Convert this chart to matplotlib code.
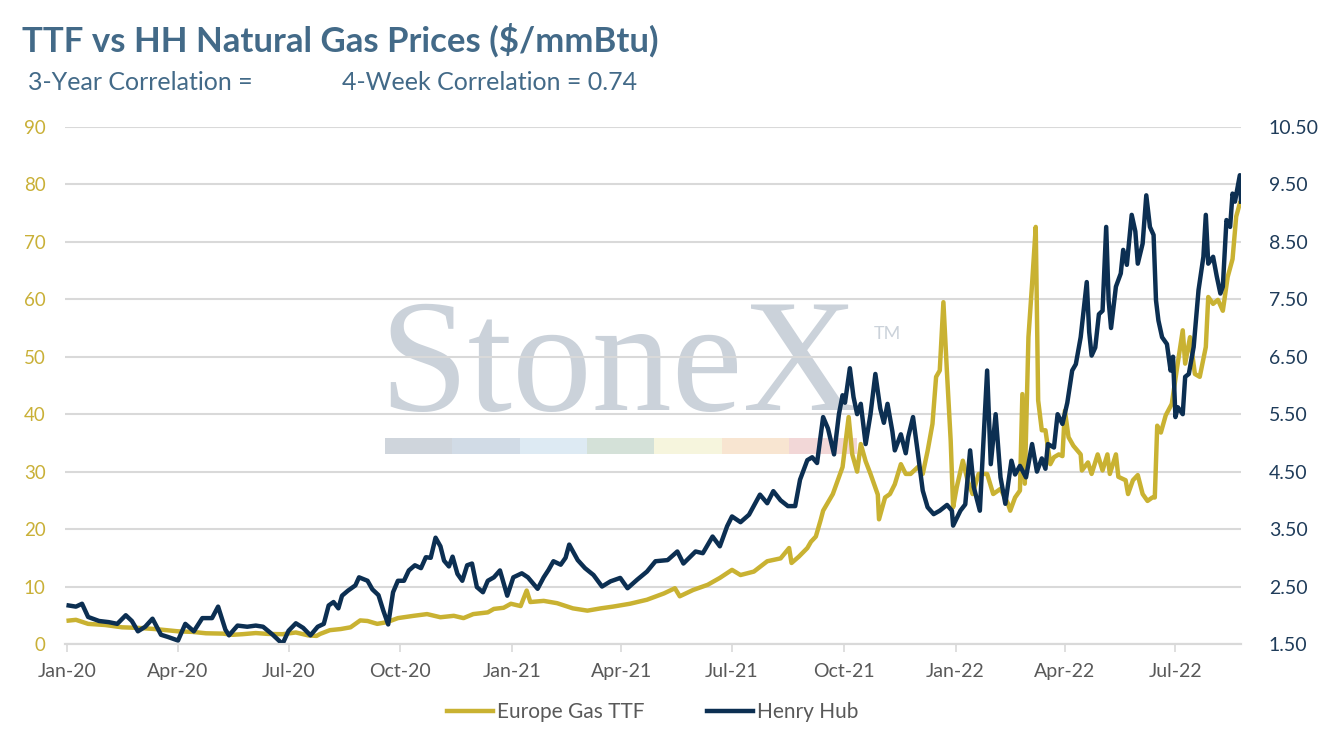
import matplotlib
matplotlib.use('Agg')
import matplotlib.pyplot as plt
import matplotlib.dates as mdates
from matplotlib.patches import Rectangle
import pandas as pd

# Henry Hub ($/mmBtu, right axis)
hh_dates = [
    '2020-01-02', '2020-01-08', '2020-01-13', '2020-01-18', '2020-01-27', '2020-02-04', '2020-02-11',
    '2020-02-18', '2020-02-23', '2020-02-28', '2020-03-05', '2020-03-11', '2020-03-18', '2020-03-24',
    '2020-04-01', '2020-04-07', '2020-04-14', '2020-04-21', '2020-04-29', '2020-05-04', '2020-05-10',
    '2020-05-13', '2020-05-20', '2020-05-28', '2020-06-04', '2020-06-10', '2020-06-18', '2020-06-26',
    '2020-07-01', '2020-07-07', '2020-07-13', '2020-07-19', '2020-07-25', '2020-07-30', '2020-08-03',
    '2020-08-07', '2020-08-11', '2020-08-14', '2020-08-19', '2020-08-25', '2020-08-28', '2020-09-04',
    '2020-09-08', '2020-09-13', '2020-09-17', '2020-09-21', '2020-09-25', '2020-09-29', '2020-10-04',
    '2020-10-08', '2020-10-13', '2020-10-18', '2020-10-22', '2020-10-26', '2020-10-30', '2020-11-03',
    '2020-11-06', '2020-11-10', '2020-11-13', '2020-11-17', '2020-11-21', '2020-11-25', '2020-11-29',
    '2020-12-03', '2020-12-08', '2020-12-12', '2020-12-17', '2020-12-22', '2020-12-28', '2021-01-02',
    '2021-01-09', '2021-01-14', '2021-01-22', '2021-01-27', '2021-01-31', '2021-02-04', '2021-02-10',
    '2021-02-14', '2021-02-17', '2021-02-24', '2021-03-02', '2021-03-09', '2021-03-16', '2021-03-23',
    '2021-03-31', '2021-04-06', '2021-04-14', '2021-04-22', '2021-04-29', '2021-05-09', '2021-05-17',
    '2021-05-22', '2021-06-01', '2021-06-07', '2021-06-15', '2021-06-21', '2021-06-27', '2021-07-01',
    '2021-07-08', '2021-07-15', '2021-07-24', '2021-07-30', '2021-08-04', '2021-08-10', '2021-08-16',
    '2021-08-22', '2021-08-26', '2021-09-01', '2021-09-05', '2021-09-09', '2021-09-14', '2021-09-18',
    '2021-09-23', '2021-09-27', '2021-09-30', '2021-10-02', '2021-10-06', '2021-10-09', '2021-10-12',
    '2021-10-15', '2021-10-19', '2021-10-23', '2021-10-27', '2021-10-31', '2021-11-03', '2021-11-06',
    '2021-11-10', '2021-11-12', '2021-11-17', '2021-11-21', '2021-11-23', '2021-11-27', '2021-12-01',
    '2021-12-05', '2021-12-09', '2021-12-14', '2021-12-19', '2021-12-25', '2021-12-29', '2021-12-30',
    '2022-01-05', '2022-01-09', '2022-01-13', '2022-01-16', '2022-01-21', '2022-01-27', '2022-01-30',
    '2022-02-03', '2022-02-07', '2022-02-11', '2022-02-16', '2022-02-19', '2022-02-23', '2022-02-28',
    '2022-03-05', '2022-03-09', '2022-03-13', '2022-03-16', '2022-03-18', '2022-03-23', '2022-03-26',
    '2022-03-30', '2022-04-03', '2022-04-07', '2022-04-10', '2022-04-14', '2022-04-19', '2022-04-21',
    '2022-04-23', '2022-04-26', '2022-04-29', '2022-05-02', '2022-05-05', '2022-05-07', '2022-05-09',
    '2022-05-13', '2022-05-17', '2022-05-19', '2022-05-22', '2022-05-26', '2022-05-29', '2022-05-31',
    '2022-06-04', '2022-06-07', '2022-06-10', '2022-06-13', '2022-06-15', '2022-06-17', '2022-06-20',
    '2022-06-24', '2022-06-27', '2022-06-29', '2022-07-01', '2022-07-03', '2022-07-07', '2022-07-09',
    '2022-07-12', '2022-07-16', '2022-07-20', '2022-07-24', '2022-07-26', '2022-07-28', '2022-08-01',
    '2022-08-04', '2022-08-07', '2022-08-09', '2022-08-12', '2022-08-15', '2022-08-17', '2022-08-19',
    '2022-08-23', '2022-08-24',
]
hh_values = [
    2.17, 2.15, 2.20, 1.97, 1.90, 1.88, 1.85,
    2.00, 1.90, 1.72, 1.80, 1.94, 1.66, 1.62,
    1.56, 1.85, 1.72, 1.95, 1.95, 2.15, 1.75,
    1.65, 1.82, 1.80, 1.82, 1.80, 1.66, 1.50,
    1.73, 1.86, 1.78, 1.65, 1.80, 1.85, 2.17,
    2.23, 2.12, 2.34, 2.43, 2.52, 2.66, 2.60,
    2.45, 2.35, 2.08, 1.84, 2.40, 2.60, 2.60,
    2.78, 2.87, 2.82, 3.01, 3.00, 3.35, 3.20,
    2.95, 2.85, 3.02, 2.72, 2.60, 2.87, 2.90,
    2.49, 2.40, 2.60, 2.66, 2.78, 2.34, 2.66,
    2.73, 2.66, 2.46, 2.66, 2.79, 2.94, 2.88,
    3.00, 3.23, 2.96, 2.82, 2.70, 2.50, 2.59,
    2.65, 2.47, 2.62, 2.76, 2.94, 2.96, 3.11,
    2.90, 3.11, 3.08, 3.37, 3.20, 3.55, 3.72,
    3.62, 3.75, 4.10, 3.95, 4.16, 4.00, 3.90,
    3.90, 4.36, 4.70, 4.75, 4.65, 5.45, 5.25,
    4.80, 5.50, 5.83, 5.70, 6.30, 5.80, 5.50,
    5.68, 4.98, 5.50, 6.20, 5.60, 5.35, 5.68,
    5.20, 4.87, 5.15, 4.82, 5.10, 5.45, 4.82,
    4.17, 3.88, 3.76, 3.82, 3.92, 3.82, 3.56,
    3.82, 3.93, 4.87, 4.23, 3.82, 6.26, 4.63,
    5.50, 4.40, 3.94, 4.69, 4.45, 4.60, 4.40,
    4.98, 4.50, 4.73, 4.55, 4.98, 4.92, 5.50,
    5.33, 5.70, 6.26, 6.37, 6.84, 7.80, 6.93,
    6.52, 6.66, 7.24, 7.30, 8.76, 7.48, 7.00,
    7.72, 7.95, 8.36, 8.10, 8.97, 8.68, 8.12,
    8.47, 9.31, 8.76, 8.62, 7.48, 7.13, 6.84,
    6.72, 6.26, 6.50, 5.45, 5.62, 5.50, 6.15,
    6.20, 6.67, 7.66, 8.24, 8.97, 8.12, 8.24,
    7.90, 7.60, 7.72, 8.88, 8.76, 9.34, 9.20,
    9.66, 9.20,
]

# Europe Gas TTF ($/mmBtu, left axis)
ttf_dates = [
    '2020-01-02', '2020-01-08', '2020-01-18', '2020-02-01', '2020-02-15', '2020-02-28', '2020-03-13',
    '2020-04-01', '2020-04-13', '2020-04-24', '2020-05-08', '2020-05-16', '2020-05-24', '2020-06-04',
    '2020-06-14', '2020-06-26', '2020-07-07', '2020-07-17', '2020-07-24', '2020-07-27', '2020-08-04',
    '2020-08-13', '2020-08-21', '2020-08-29', '2020-09-04', '2020-09-12', '2020-09-20', '2020-09-29',
    '2020-10-12', '2020-10-23', '2020-11-03', '2020-11-14', '2020-11-22', '2020-11-30', '2020-12-12',
    '2020-12-17', '2020-12-25', '2020-12-31', '2021-01-08', '2021-01-13', '2021-01-16', '2021-01-27',
    '2021-02-07', '2021-02-20', '2021-03-04', '2021-03-15', '2021-03-25', '2021-04-08', '2021-04-22',
    '2021-05-06', '2021-05-15', '2021-05-19', '2021-05-30', '2021-06-11', '2021-06-21', '2021-07-01',
    '2021-07-08', '2021-07-19', '2021-07-30', '2021-08-10', '2021-08-17', '2021-08-19', '2021-08-25',
    '2021-09-01', '2021-09-04', '2021-09-08', '2021-09-12', '2021-09-14', '2021-09-22', '2021-09-30',
    '2021-10-05', '2021-10-08', '2021-10-12', '2021-10-15', '2021-10-19', '2021-10-23', '2021-10-29',
    '2021-10-30', '2021-11-04', '2021-11-08', '2021-11-12', '2021-11-17', '2021-11-21', '2021-11-25',
    '2021-12-01', '2021-12-05', '2021-12-09', '2021-12-13', '2021-12-16', '2021-12-19', '2021-12-22',
    '2021-12-25', '2021-12-28', '2021-12-30', '2022-01-02', '2022-01-07', '2022-01-11', '2022-01-15',
    '2022-01-20', '2022-01-27', '2022-02-01', '2022-02-07', '2022-02-13', '2022-02-15', '2022-02-19',
    '2022-02-23', '2022-02-25', '2022-02-27', '2022-03-02', '2022-03-05', '2022-03-08', '2022-03-10',
    '2022-03-13', '2022-03-16', '2022-03-20', '2022-03-23', '2022-03-27', '2022-03-30', '2022-04-01',
    '2022-04-04', '2022-04-08', '2022-04-14', '2022-04-15', '2022-04-20', '2022-04-23', '2022-04-28',
    '2022-05-02', '2022-05-06', '2022-05-08', '2022-05-13', '2022-05-15', '2022-05-21', '2022-05-23',
    '2022-05-27', '2022-05-31', '2022-06-04', '2022-06-08', '2022-06-12', '2022-06-14', '2022-06-16',
    '2022-06-19', '2022-06-23', '2022-06-28', '2022-07-02', '2022-07-07', '2022-07-09', '2022-07-13',
    '2022-07-17', '2022-07-21', '2022-07-26', '2022-07-28', '2022-08-01', '2022-08-05', '2022-08-09',
    '2022-08-13', '2022-08-17', '2022-08-20', '2022-08-23',
]
ttf_values = [
    4.07, 4.20, 3.50, 3.30, 2.90, 2.80, 2.60,
    2.20, 2.10, 1.86, 1.80, 1.60, 1.70, 1.90,
    1.75, 1.70, 2.00, 1.50, 1.40, 1.75, 2.40,
    2.60, 2.90, 4.10, 4.00, 3.50, 3.80, 4.50,
    4.90, 5.20, 4.65, 4.90, 4.50, 5.20, 5.50,
    6.10, 6.30, 7.00, 6.60, 9.30, 7.30, 7.50,
    7.10, 6.20, 5.80, 6.20, 6.50, 7.00, 7.70,
    8.80, 9.70, 8.30, 9.40, 10.3, 11.5, 12.9,
    12.0, 12.6, 14.4, 14.9, 16.7, 14.1, 15.2,
    16.7, 17.8, 18.7, 21.6, 23.2, 26.1, 30.8,
    39.5, 33.0, 30.0, 34.8, 31.8, 29.6, 26.0,
    21.7, 25.5, 26.1, 27.8, 31.3, 29.6, 29.6,
    30.8, 29.6, 33.6, 38.3, 46.5, 47.6, 59.5,
    47.0, 35.4, 23.8, 27.3, 31.9, 28.4, 26.1,
    29.6, 29.6, 26.1, 27.0, 24.5, 23.2, 25.5,
    26.7, 43.5, 27.9, 53.4, 62.7, 72.6, 42.4,
    37.2, 37.2, 31.3, 32.5, 33.0, 32.7, 40.6,
    36.0, 34.5, 33.0, 30.2, 31.6, 29.6, 33.0,
    30.2, 33.0, 29.6, 33.0, 29.1, 28.5, 26.1,
    28.5, 29.4, 26.1, 24.9, 25.5, 25.5, 38.0,
    36.8, 39.8, 41.8, 47.6, 54.6, 48.8, 53.4,
    47.0, 46.5, 51.7, 60.4, 59.2, 59.9, 58.0,
    63.9, 67.0, 74.4, 76.7,
]

left_ticks = [0, 10, 20, 30, 40, 50, 60, 70, 80, 90]
right_ticks = [1.5, 2.5, 3.5, 4.5, 5.5, 6.5, 7.5, 8.5, 9.5, 10.5]

GOLD = '#c9b232'
NAVY = '#0c2f52'
TITLE_C = '#436a88'
GREY_TXT = '#595959'
GRID_C = '#d9d9d9'

plt.rcParams['font.family'] = ['Lato', 'DejaVu Sans']

fig = plt.figure(figsize=(13.19, 7.39), dpi=100)
ax = fig.add_axes([0.0493, 0.1286, 0.8916, 0.6996])
ax2 = ax.twinx()
ax.patch.set_visible(False)

# watermark (behind grid)
ax.text(0.471, 0.453, 'StoneX', transform=ax.transAxes, ha='center', va='baseline',
        fontsize=115, family='Liberation Serif', color='#cbd2da', zorder=0.2)
ax.text(0.688, 0.59, 'TM', transform=ax.transAxes, ha='left', va='baseline',
        fontsize=13, color='#cbd2da', zorder=0.2)
bar_cols = ['#cfd5dc', '#d1dbe6', '#ddeaf3', '#d4e1d8', '#f6f5dd', '#f8e5d1', '#f2d7d7']
for i, c in enumerate(bar_cols):
    ax.add_patch(Rectangle((0.272 + i * 0.0573, 0.3675), 0.0573, 0.031, transform=ax.transAxes,
                           facecolor=c, edgecolor='none', zorder=0.2))

ttf_x = pd.to_datetime(ttf_dates)
hh_x = pd.to_datetime(hh_dates)
l1, = ax.plot(ttf_x, ttf_values, color=GOLD, lw=3.2, solid_joinstyle='round', label='Europe Gas TTF')
l2, = ax2.plot(hh_x, hh_values, color=NAVY, lw=3.2, solid_joinstyle='round', label='Henry Hub')

ax.set_ylim(0, 90)
ax.set_yticks(left_ticks)
ax2.set_ylim(1.5, 10.5)
ax2.set_yticks(right_ticks)
ax2.set_yticklabels(['%.2f' % v for v in right_ticks])
ax.set_xlim(pd.Timestamp('2019-12-30'), pd.Timestamp('2022-08-24'))
ax.xaxis.set_major_locator(mdates.MonthLocator(bymonth=[1, 4, 7, 10]))
ax.xaxis.set_major_formatter(mdates.DateFormatter('%b-%y'))

ax.yaxis.grid(True, color=GRID_C, lw=1.5)
for a in (ax, ax2):
    for s in ('top', 'left', 'right'):
        a.spines[s].set_visible(False)
    a.spines['bottom'].set_color(GRID_C)
    a.spines['bottom'].set_linewidth(1.5)

ax.tick_params(axis='y', length=0, labelsize=13.5, labelcolor='#c9b037', pad=14)
ax2.tick_params(axis='y', length=0, labelsize=14, labelcolor='#1f3c5a', pad=20)
ax.tick_params(axis='x', length=6, width=1.2, color=GRID_C, labelsize=14, labelcolor=GREY_TXT, pad=8)

fig.text(0.017, 0.945, 'TTF vs HH Natural Gas Prices ($/mmBtu)', fontsize=25, fontweight='bold',
         color=TITLE_C, va='center')
fig.text(0.021, 0.888, '3-Year Correlation =', fontsize=18, color=TITLE_C, va='center')
fig.text(0.259, 0.888, '4-Week Correlation = 0.74', fontsize=18, color=TITLE_C, va='center')

fig.legend([l1, l2], ['Europe Gas TTF', 'Henry Hub'], loc='center', bbox_to_anchor=(0.495, 0.036),
           ncol=2, frameon=False, fontsize=15, handlelength=2.2, handletextpad=0.2,
           columnspacing=3.0, labelcolor=GREY_TXT)

fig.savefig('out.png', dpi=100)
